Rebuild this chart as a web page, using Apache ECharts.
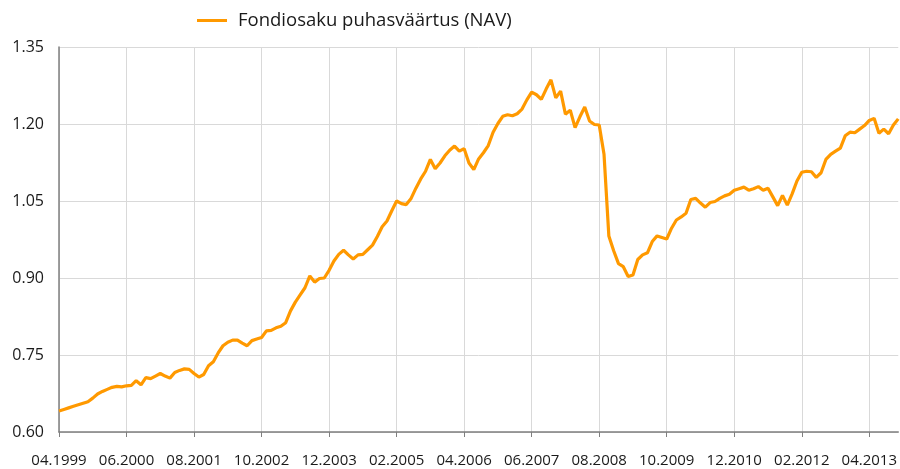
<!DOCTYPE html>
<html>
<head>
<meta charset="utf-8">
<script src="https://cdn.jsdelivr.net/npm/echarts@6/dist/echarts.min.js"></script>
<style>
  html, body { margin: 0; padding: 0; background: #fff; }
  #chart { width: 900px; height: 469px; }
</style>
</head>
<body>
<div id="chart"></div>
<script>
//kuu andmed, 04.1999 - 10.2013
var startYear  = 1999;
var startMonth = 4;
var seriesName = 'Fondiosaku puhasväärtus (NAV)';
var yTicks     = [0.60, 0.75, 0.90, 1.05, 1.20, 1.35];

var navValues = [
    0.641, 0.644, 0.647, 0.650, 0.653, 0.656, 0.659, 0.666, 0.674, 0.679,
    0.683, 0.687, 0.689, 0.688, 0.690, 0.691, 0.700, 0.692, 0.706, 0.704,
    0.709, 0.714, 0.709, 0.705, 0.716, 0.720, 0.723, 0.722, 0.714, 0.707,
    0.712, 0.729, 0.737, 0.754, 0.768, 0.775, 0.779, 0.779, 0.773, 0.768,
    0.778, 0.781, 0.784, 0.797, 0.798, 0.803, 0.806, 0.813, 0.836, 0.853,
    0.867, 0.881, 0.904, 0.892, 0.899, 0.900, 0.915, 0.933, 0.946, 0.954,
    0.945, 0.937, 0.945, 0.946, 0.955, 0.964, 0.981, 1.000, 1.011, 1.031,
    1.050, 1.045, 1.043, 1.055, 1.075, 1.093, 1.108, 1.131, 1.113, 1.124,
    1.138, 1.149, 1.157, 1.147, 1.152, 1.124, 1.111, 1.132, 1.144, 1.158,
    1.184, 1.201, 1.215, 1.218, 1.216, 1.220, 1.229, 1.247, 1.262, 1.257,
    1.248, 1.268, 1.286, 1.251, 1.264, 1.219, 1.227, 1.193, 1.214, 1.233,
    1.206, 1.199, 1.198, 1.141, 0.982, 0.953, 0.928, 0.922, 0.903, 0.906,
    0.936, 0.945, 0.949, 0.971, 0.982, 0.979, 0.976, 0.997, 1.013, 1.019,
    1.026, 1.053, 1.055, 1.046, 1.038, 1.047, 1.049, 1.055, 1.060, 1.063,
    1.071, 1.074, 1.077, 1.071, 1.074, 1.078, 1.071, 1.075, 1.058, 1.041,
    1.061, 1.042, 1.064, 1.089, 1.106, 1.108, 1.107, 1.096, 1.105, 1.131,
    1.141, 1.147, 1.153, 1.177, 1.184, 1.183, 1.190, 1.197, 1.207, 1.211,
    1.182, 1.190, 1.181, 1.198, 1.210
];

//kategooriad kujul MM.YYYY
var months = [];
for (var i = 0; i < navValues.length; i++) {
    var m = startMonth - 1 + i;
    var mm = (m % 12) + 1;
    months.push((mm < 10 ? '0' : '') + mm + '.' + (startYear + Math.floor(m / 12)));
}

var font = 'Open Sans';
var chart = echarts.init(document.getElementById('chart'), null, { renderer: 'canvas' });

chart.setOption({
    animation : false,
    backgroundColor : '#ffffff',
    legend : {
        left : 192,
        top  : 6,
        icon : 'rect',
        itemWidth  : 30,
        itemHeight : 3,
        textStyle : { fontFamily: font, fontSize: 18.5, color: '#1a1a1a', padding: [0, 0, 0, 6] },
        data : [seriesName]
    },
    grid : { left: 59, right: 0, top: 47, bottom: 37 },
    xAxis : {
        type : 'category',
        data : months,
        boundaryGap : false,
        axisLine  : { lineStyle: { color: '#7f7f7f', width: 1.5 } },
        axisTick  : { interval: 13, length: 5, lineStyle: { color: '#7f7f7f' } },
        axisLabel : { interval: 13, margin: 21, fontFamily: font, fontSize: 15, color: '#1a1a1a' },
        splitLine : { show: true, interval: 13, lineStyle: { color: '#d9d9d9', width: 1 } }
    },
    yAxis : {
        type : 'value',
        min : yTicks[0],
        max : yTicks[yTicks.length - 1],
        interval : 0.15,
        axisLine  : { show: true, lineStyle: { color: '#7f7f7f', width: 1.5 } },
        axisTick  : { show: false },
        axisLabel : {
            margin : 15,
            fontFamily : font, fontSize: 16, color: '#1a1a1a',
            formatter : function (v) { return v.toFixed(2); }
        },
        splitLine : { lineStyle: { color: '#d9d9d9', width: 1 } }
    },
    series : [{
        name : seriesName,
        type : 'line',
        data : navValues,
        symbol : 'none',
        lineStyle : { color: '#ff9900', width: 3.2 },
        itemStyle : { color: '#ff9900' }
    }]
});
</script>
</body>
</html>
